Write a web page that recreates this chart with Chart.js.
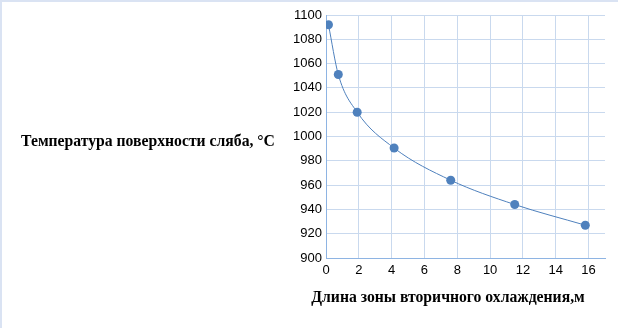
<!DOCTYPE html>
<html>
<head>
  <meta charset="UTF-8" />
  <title>Температура поверхности сляба</title>
  <script src="https://cdn.jsdelivr.net/npm/chart.js"></script>
  <style>
    body { margin: 0; background: #fff; }
    #wrap { width: 618px; height: 328px; box-sizing: border-box; border-top: 2px solid #dae3f3; border-left: 2px solid #dae3f3; }
    #wrap canvas { display: block; }
  </style>
</head>
<body>
<div id="wrap"><canvas id="slabChart" width="616" height="326"></canvas></div>

<script>
  // длина зоны, м
  const zoneLength = [0.15, 0.75, 1.9, 4.15, 7.6, 11.5, 15.8];
  // температура поверхности, °C
  const surfaceTemp = [1092, 1051, 1020, 990.5, 964, 944, 927];
  // подписи оси X
  const xTicks = [0, 2, 4, 6, 8, 10, 12, 14, 16];

  const yTitle = 'Температура поверхности сляба, °C';
  const xTitle = 'Длина зоны вторичного охлаждения,м';

  const gridColor = '#c9d9ee';
  const axisColor = '#8eb4e3';
  const markColor = '#4f81bd';

  const titlesPlugin = {
    id: 'titles',
    afterDraw(chart) {
      const ctx = chart.ctx;
      ctx.save();
      ctx.fillStyle = '#000';
      ctx.font = 'bold 15.7px "Liberation Serif"';
      ctx.textAlign = 'center';
      ctx.textBaseline = 'middle';
      ctx.fillText(yTitle, 146, 140);
      ctx.fillText(xTitle, 446, 296);
      ctx.restore();
    }
  };

  const points = zoneLength.map((x, i) => ({ x: x, y: surfaceTemp[i] }));
  const tickFont = { family: 'Liberation Sans', size: 13 };

  new Chart(document.getElementById('slabChart'), {
    type: 'scatter',
    data: {
      datasets: [{
        data: points,
        showLine: true,
        borderColor: markColor,
        borderWidth: 1,
        backgroundColor: markColor,
        pointRadius: 4.5,
        pointBorderWidth: 0,
        cubicInterpolationMode: 'monotone'
      }]
    },
    options: {
      responsive: false,
      animation: false,
      layout: { padding: { top: 13, right: 13, left: 0, bottom: 0 } },
      plugins: { legend: { display: false }, tooltip: { enabled: false } },
      scales: {
        x: {
          type: 'linear',
          min: 0,
          max: 17,
          afterBuildTicks(scale) { scale.ticks = xTicks.map(v => ({ value: v })); },
          afterFit(scale) { scale.height = 70; },
          ticks: { padding: 5, color: '#000', font: tickFont, callback: v => String(Math.round(v)) },
          grid: { color: gridColor, drawTicks: false },
          border: { color: axisColor }
        },
        y: {
          min: 900,
          max: 1100,
          afterFit(scale) { scale.width = 324; },
          ticks: { stepSize: 20, padding: 4, color: '#000', font: tickFont, callback: v => String(Math.round(v)) },
          grid: { color: gridColor, drawTicks: false },
          border: { color: axisColor }
        }
      }
    },
    plugins: [titlesPlugin]
  });
</script>
</body>
</html>
